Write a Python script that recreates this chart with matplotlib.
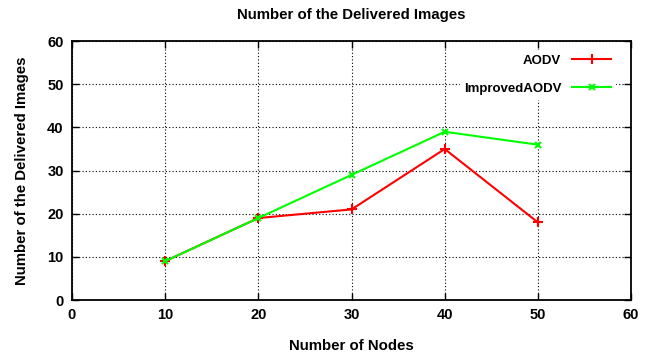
from matplotlib import pyplot as plt

# data
nodes = [10, 20, 30, 40, 50]
aodv = [9, 19, 21, 35, 18]
improved_aodv = [9, 19, 29, 39, 36]

plt.rcParams['font.family'] = ['Liberation Sans', 'DejaVu Sans']
plt.rcParams['font.weight'] = 'bold'

fig = plt.figure(figsize=(6.54, 3.58), dpi=100)
ax = fig.add_axes([0.110, 0.162, 0.855, 0.723])

ax.plot(nodes, aodv, color='#ff0000', marker='+', markersize=7, linewidth=1.5,
        markeredgewidth=1.5, label='AODV')
ax.plot(nodes, improved_aodv, color='#00ff00', marker='x', markersize=5, linewidth=1.5,
        markeredgewidth=1.5, label='ImprovedAODV')

ax.set_xlim(0, 60)
ax.set_ylim(0, 60)
ax.set_xticks(range(0, 61, 10))
ax.set_yticks(range(0, 61, 10))
ax.grid(True, color='black', linestyle=(0, (1, 2)), linewidth=0.8)
ax.tick_params(direction='in', top=True, right=True, length=5, width=1,
               labelsize=10.5, pad=6)
for s in ax.spines.values():
    s.set_linewidth(1.3)

ax.set_title('Number of the Delivered Images', fontsize=10.8, fontweight='bold', pad=16)
ax.set_xlabel('Number of Nodes', fontsize=10.8, fontweight='bold', labelpad=12)
ax.set_ylabel('Number of the Delivered Images', fontsize=10.8, fontweight='bold', labelpad=13)

leg = ax.legend(loc='upper right', bbox_to_anchor=(0.986, 0.995), markerfirst=False,
                prop={'size': 9.5, 'weight': 'bold'},
                frameon=True, fancybox=False, handlelength=3, borderaxespad=0.6,
                labelspacing=1.2, borderpad=0.3)
leg.get_frame().set_edgecolor('white')
leg.get_frame().set_alpha(1)

plt.savefig('out.png', dpi=100)
